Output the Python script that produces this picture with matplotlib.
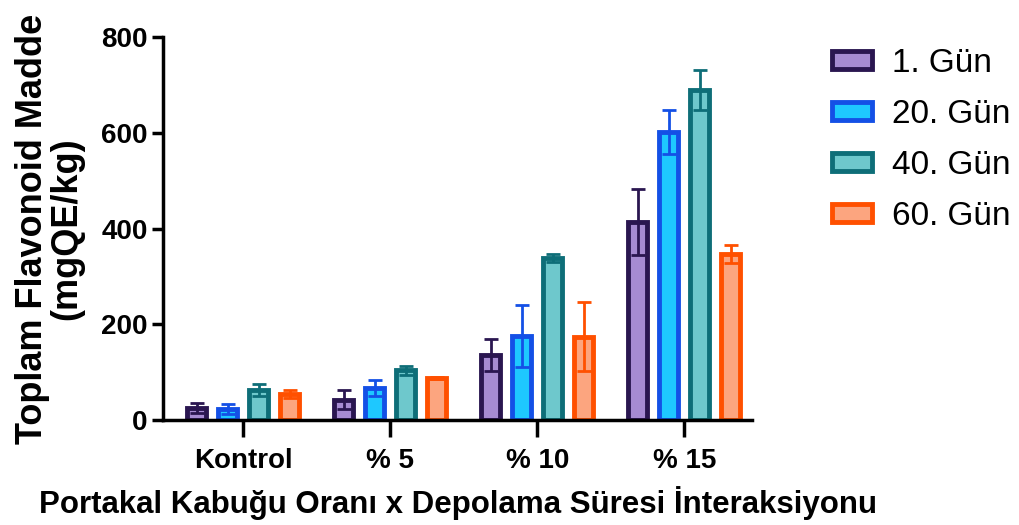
import matplotlib.pyplot as plt
import numpy as np

plt.rcParams['font.family'] = ['Liberation Sans', 'DejaVu Sans']

groups = ["Kontrol", "% 5", "% 10", "% 15"]
series = ["1. Gün", "20. Gün", "40. Gün", "60. Gün"]

# mean values (mgQE/kg) per storage day, one entry per group
gun1 = [25, 42, 136, 413]
gun20 = [23, 67, 175, 601]
gun40 = [63, 104, 338, 689]
gun60 = [54, 88, 174, 347]

# standard deviations
sd1 = [10, 20, 33, 69]
sd20 = [10, 17, 65, 46]
sd40 = [12, 9, 9, 42]
sd60 = [8, 2, 72, 19]

means = [gun1, gun20, gun40, gun60]
errs = [sd1, sd20, sd40, sd60]

edge_colors = ["#2A1650", "#1450E6", "#0E6E78", "#FF5000"]
fill_colors = ["#A68BD2", "#1EC8FF", "#6EC8CC", "#FCA57F"]

fig = plt.figure(figsize=(10.19, 5.25), dpi=100)
ax = fig.add_axes([0.16, 0.2, 0.578, 0.7295])

x = np.arange(len(groups))
pitch = 0.211
width = 0.13

for i in range(len(series)):
    pos = x + (i - 1.5) * pitch
    ax.bar(pos, means[i], width=width, color=fill_colors[i],
           edgecolor=edge_colors[i], linewidth=3.5, label=series[i], zorder=2)
    ax.errorbar(pos, means[i], yerr=errs[i], fmt='none', ecolor=edge_colors[i],
                elinewidth=2, capsize=5, capthick=2, zorder=3)

ax.set_xlim(-0.544, 3.46)
ax.set_ylim(0, 800)
ax.set_yticks([0, 200, 400, 600, 800])
ax.set_xticks(x)
ax.set_xticklabels(groups)

for s in ['top', 'right']:
    ax.spines[s].set_visible(False)
for s in ['left', 'bottom']:
    ax.spines[s].set_linewidth(2.5)

ax.tick_params(axis='both', width=2.5, labelsize=20)
ax.tick_params(axis='x', length=12, pad=8)
ax.tick_params(axis='y', length=8, pad=3)
for lab in ax.get_xticklabels() + ax.get_yticklabels():
    lab.set_fontweight('bold')

ax.set_ylabel("Toplam Flavonoid Madde\n(mgQE/kg)", fontsize=26,
              fontweight='bold', linespacing=1.0, labelpad=12)
ax.set_xlabel("Portakal Kabuğu Oranı x Depolama Süresi İnteraksiyonu",
              fontsize=22.5, fontweight='bold', labelpad=9)

leg = ax.legend(loc='upper left', bbox_to_anchor=(1.085, 1.05), frameon=False,
                fontsize=24, handlelength=1.2, handleheight=0.45,
                labelspacing=0.6, handletextpad=0.6)

fig.savefig("out.png", dpi=100)
